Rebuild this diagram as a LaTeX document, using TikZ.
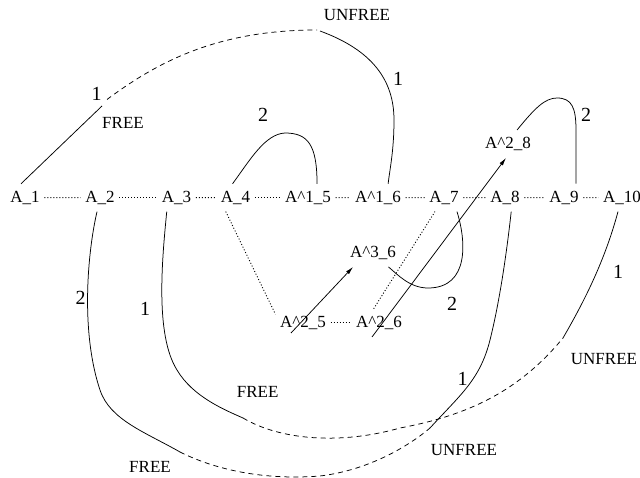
\documentclass[tikz,border=0pt]{standalone}
\usepackage{fontspec}
\setmainfont{Liberation Serif}
\usetikzlibrary{arrows.meta}
\begin{document}
\begin{tikzpicture}[x=1pt,y=-1pt,
  vtx/.style={font=\fontsize{17}{20}\selectfont, inner xsep=4.5pt, inner ysep=7pt, anchor=base},
  numlbl/.style={font=\fontsize{20}{24}\selectfont, inner sep=0pt},
  lbl/.style={font=\fontsize{17}{20}\selectfont, inner sep=0pt},
  link/.style={line width=0.9pt, dash pattern=on 1pt off 2pt},
  solidline/.style={line width=0.75pt},
  dsh/.style={line width=0.75pt, dash pattern=on 5pt off 4pt},
  arr/.style={line width=0.75pt, -{Latex[length=8pt,width=4pt]}}
]
\useasboundingbox (0,0) rectangle (640,478);

% main row
\node[vtx] (a1) at (25,202.2) {A\_1};
\node[vtx] (a2) at (100,202.2) {A\_2};
\node[vtx] (a3) at (176.5,202.2) {A\_3};
\node[vtx] (a4) at (235.5,202.2) {A\_4};
\node[vtx] (a15) at (308,202.2) {A\textasciicircum1\_5};
\node[vtx] (a16) at (378,202.2) {A\textasciicircum1\_6};
\node[vtx] (a7) at (444,202.2) {A\_7};
\node[vtx] (a8) at (505,202.2) {A\_8};
\node[vtx] (a9) at (564,202.2) {A\_9};
\node[vtx] (a10) at (622,202.2) {A\_10};
% other nodes
\node[vtx] (a25) at (303,327.2) {A\textasciicircum2\_5};
\node[vtx] (a26) at (379,327.2) {A\textasciicircum2\_6};
\node[vtx] (a36) at (373,257.5) {A\textasciicircum3\_6};
\node[vtx] (a28) at (508,148.5) {A\textasciicircum2\_8};

% dotted links
\draw[link] (a1) -- (a2);
\draw[link] (a2) -- (a3);
\draw[link] (a3) -- (a4);
\draw[link] (a4) -- (a15);
\draw[link] (a15) -- (a16);
\draw[link] (a16) -- (a7);
\draw[link] (a7) -- (a8);
\draw[link] (a8) -- (a9);
\draw[link] (a9) -- (a10);
\draw[link] (a4.235) -- (a25.163);
\draw[link] (a25) -- (a26);
\draw[link] (a26.111) -- (a7.237);

% arrows
\coordinate (s1) at (291,333);
\coordinate (s2) at (372,337);
\draw[arr] (s1) -- (a36.215);
\draw[arr] (s2) -- (a28.262);

% top curve A_1 -> A^1_6
\coordinate (c1a) at (102,106);
\coordinate (c1b) at (107,99.5);
\coordinate (c1c) at (317,30);
\coordinate (c1d) at (320,31);
\draw[solidline] (a1.106) -- (c1a);
\draw[dsh] (c1b) .. controls (160,60) and (220,30) .. (c1c);
\draw[solidline] (c1d) .. controls (372,50) and (394,80) .. (394,120) .. controls (394,150) and (390,168) .. (a16.54);

% arc A_4 -> A^1_5
\draw[solidline] (a4.102) .. controls (250,160) and (265,134) .. (285,133) .. controls (308,133) and (317,145) .. (a15.57);

% arc A^2_8 -> A_9
\draw[solidline] (a28.57) .. controls (535,108) and (545,98) .. (557,98) .. controls (572,98) and (576,108) .. (576,130) -- (a9.49);

% loop A_7 -> A^3_6
\draw[solidline] (a7.-47) .. controls (466,240) and (470,288) .. (428,288) .. controls (410,288) and (398,275) .. (a36.-42);

% lower curve A_2 -> A_8
\coordinate (c5a) at (180,452);
\coordinate (c5b) at (430,428);
\draw[solidline] (a2.258) .. controls (88,250) and (80,330) .. (100,390) .. controls (110,420) and (145,432) .. (c5a);
\draw[dsh] (c5a) .. controls (220,472) and (270,480) .. (320,476) .. controls (370,470) and (410,445) .. (c5b);
\draw[solidline] (c5b) .. controls (460,395) and (480,380) .. (490,340) .. controls (500,300) and (507,250) .. (a8.-66);

% lower curve A_3 -> A_10
\coordinate (c6a) at (243,418);
\coordinate (c6b) at (563,338);
\draw[solidline] (a3.235) .. controls (162,260) and (155,335) .. (177,370) .. controls (193,397) and (225,410) .. (c6a);
\draw[dsh] (c6a) .. controls (280,440) and (340,445) .. (400,428) .. controls (470,415) and (520,390) .. (c6b);
\draw[solidline] (c6b) .. controls (585,300) and (605,260) .. (a10.254);

% labels
\node[numlbl] (n1) at (96.5,94) {1};
\node[lbl] (f1) at (123,122.5) {FREE};
\node[lbl] (u1) at (357,15.5) {UNFREE};
\node[numlbl] (n2) at (398,78.5) {1};
\node[numlbl] (n3) at (263,115) {2};
\node[numlbl] (n4) at (586,115) {2};
\node[numlbl] (n5) at (452,303.7) {2};
\node[numlbl] (n6) at (80.5,298) {2};
\node[numlbl] (n7) at (145,309) {1};
\node[lbl] (f2) at (257.7,391.5) {FREE};
\node[lbl] (f3) at (150,466.5) {FREE};
\node[numlbl] (n8) at (462.5,379) {1};
\node[lbl] (u2) at (464,450.5) {UNFREE};
\node[lbl] (u3) at (604,359.5) {UNFREE};
\node[numlbl] (n9) at (618,271.5) {1};
\end{tikzpicture}
\end{document}
